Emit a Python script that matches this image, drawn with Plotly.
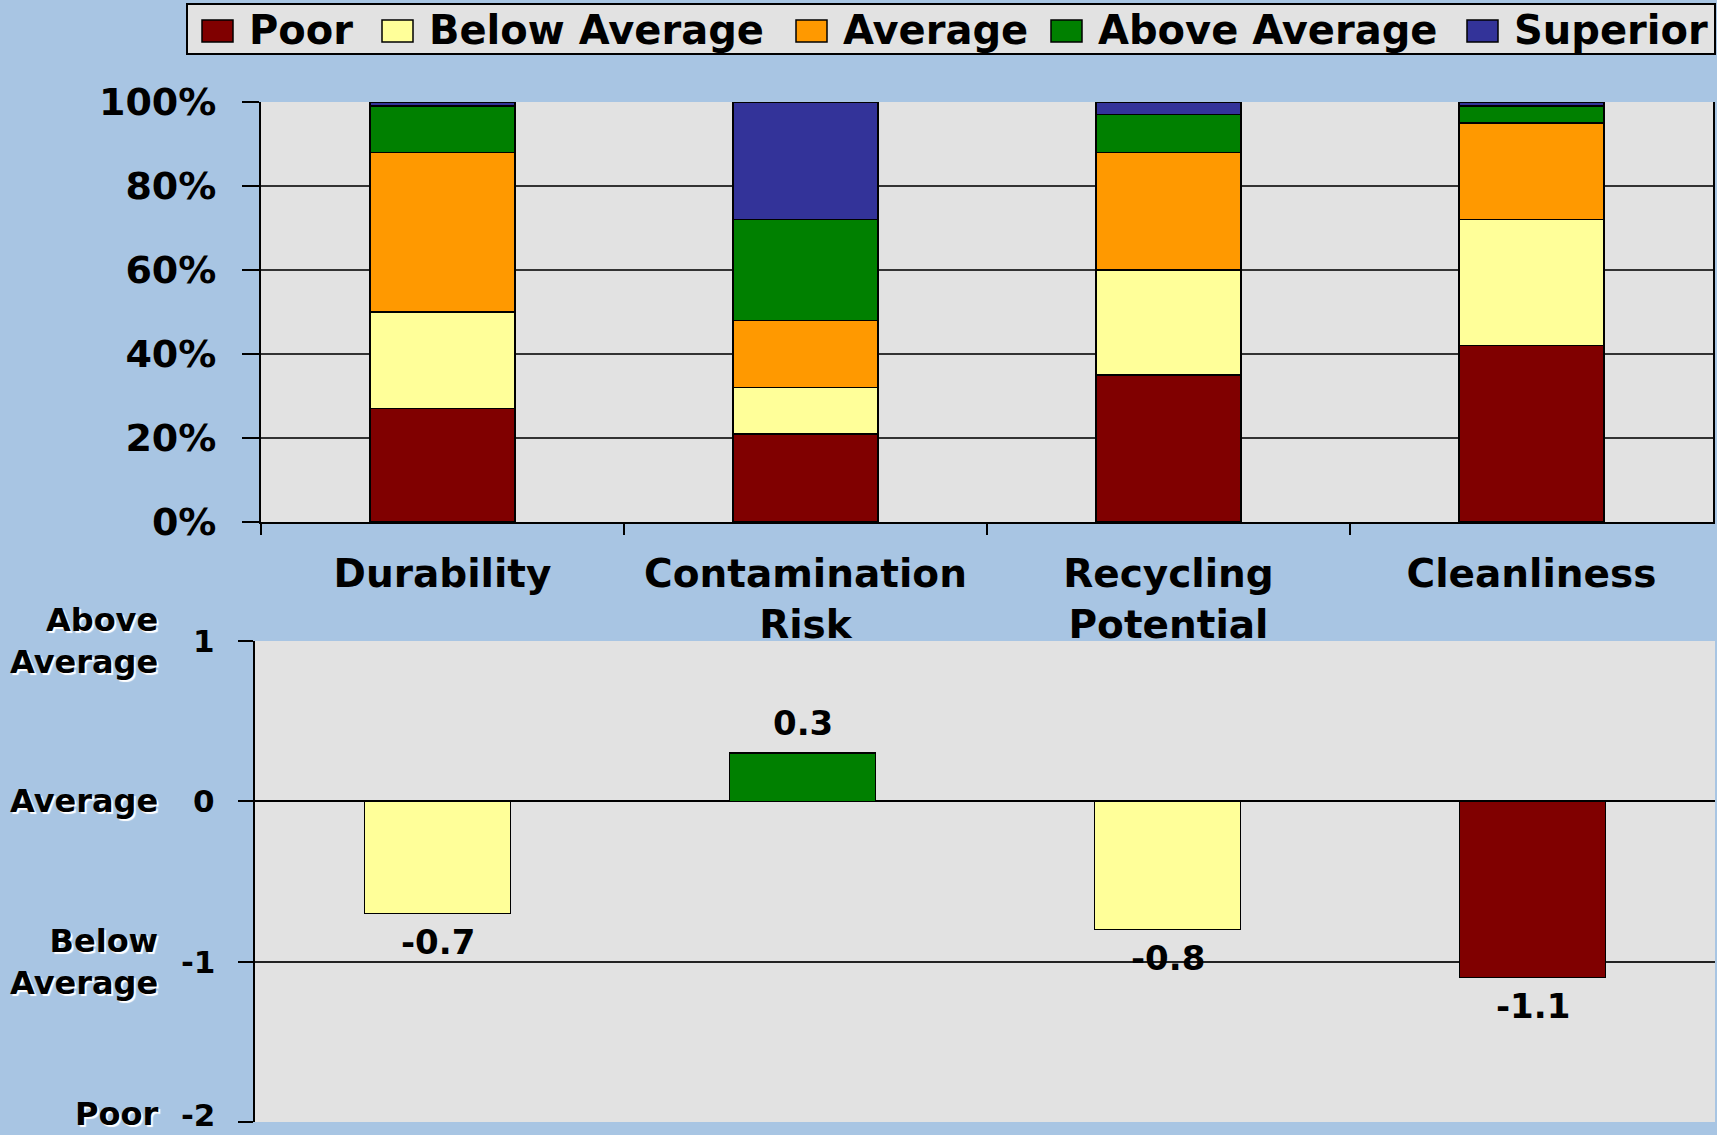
import plotly.graph_objects as go

categories = ["Durability", "Contamination<br>Risk", "Recycling<br>Potential", "Cleanliness"]
rating_levels = ["Poor", "Below Average", "Average", "Above Average", "Superior"]
poor = [27, 21, 35, 42]
below_average = [23, 11, 25, 30]
average = [38, 16, 28, 23]
above_average = [11, 24, 9, 4]
superior = [1, 28, 3, 1]
scores = [-0.7, 0.3, -0.8, -1.1]
score_tick_vals = [1, 0, -1, -2]
score_tick_text = ["1", "0", "-1", "-2"]
score_names = ["Above<br>Average", "Average", "Below<br>Average", "Poor"]

colors = {"Poor": "#800000", "Below Average": "#FFFF99", "Average": "#FF9900",
          "Above Average": "#008000", "Superior": "#333399"}
series = [poor, below_average, average, above_average, superior]

BG = "#A8C5E3"
PLOT_BG = "#E2E2E2"
FONT = "DejaVu Sans"
W, H = 1717, 1135

fig = go.Figure()
for name, vals in zip(rating_levels, series):
    fig.add_trace(go.Bar(x=categories, y=vals, name=name, xaxis="x", yaxis="y", showlegend=False,
                         marker=dict(color=colors[name], line=dict(color="black", width=1.5))))

def score_color(v):
    if v >= 0.0:
        return colors["Above Average"]
    if v > -1.0:
        return colors["Below Average"]
    return colors["Poor"]

fig.add_trace(go.Bar(x=categories, y=scores, xaxis="x2", yaxis="y2", showlegend=False,
                     marker=dict(color=[score_color(v) for v in scores], line=dict(color="black", width=1.5))))

annotations = []
shapes = []

# value labels for the score bars
for cat, v in zip(categories, scores):
    annotations.append(dict(x=cat, xref="x2", y=v, yref="y2", text=f"{v:.1f}", showarrow=False,
                            yanchor="middle", yshift=(30 if v >= 0 else -28),
                            font=dict(size=34, family=FONT, weight="bold", color="black")))

# score axis tick labels and rating names next to the score axis
last = score_tick_vals[-1]
for val, tick, lab in zip(score_tick_vals, score_tick_text, score_names):
    name_ann = dict(x=160 / W, xref="paper", xanchor="right", y=val, yref="y2",
                    yanchor="middle", text=lab, showarrow=False, align="right",
                    font=dict(size=32, family=FONT, weight="bold", color="black",
                              shadow="2px 2px 1px white"))
    tick_ann = dict(x=217 / W, xref="paper", xanchor="right", y=val, yref="y2",
                    yanchor="middle", text=tick, showarrow=False, align="right",
                    font=dict(size=31, family=FONT, weight="bold", color="black"))
    if val == last:
        name_ann.update(yanchor="bottom", yshift=-13)
        tick_ann.update(yanchor="bottom", yshift=-13)
    annotations.extend([name_ann, tick_ann])

# custom legend box (layout positions in pixels)
legend_box = (187, 4, 1715, 54)
legend_swatch_left = [202, 382, 796, 1051, 1467]
sw_w, sw_top, sw_bot = 31, 20, 42
shapes.append(dict(type="rect", xref="paper", yref="paper", layer="above",
                   x0=legend_box[0] / W, x1=legend_box[2] / W,
                   y0=1 - legend_box[3] / H, y1=1 - legend_box[1] / H,
                   fillcolor="#E2E2E2", line=dict(color="black", width=2)))
for name, lx in zip(rating_levels, legend_swatch_left):
    shapes.append(dict(type="rect", xref="paper", yref="paper", layer="above",
                       x0=lx / W, x1=(lx + sw_w) / W, y0=1 - sw_bot / H, y1=1 - sw_top / H,
                       fillcolor=colors[name], line=dict(color="black", width=1.5)))
    annotations.append(dict(x=(lx + 45) / W, xref="paper", xanchor="left",
                            y=1 - 30 / H, yref="paper", yanchor="middle", text=name,
                            showarrow=False,
                            font=dict(size=40, family=FONT, weight="bold", color="black")))

fig.update_layout(
    width=W, height=H,
    margin=dict(l=0, r=0, t=0, b=0, autoexpand=False),
    paper_bgcolor=BG, plot_bgcolor=PLOT_BG,
    barmode="stack", bargap=0.6, showlegend=False,
    font=dict(family=FONT, weight="bold", color="black", size=34),
    xaxis=dict(domain=[261 / W, 1713 / W], anchor="y", showline=True, linecolor="black", linewidth=2,
               ticks="outside", tickson="boundaries", ticklen=11, tickwidth=2, tickcolor="black",
               showgrid=False, tickfont=dict(size=39), ticklabelstandoff=16),
    yaxis=dict(domain=[1 - 522 / H, 1 - 102 / H], anchor="x", range=[0, 100], dtick=20,
               ticksuffix="%", showline=True, linecolor="black", linewidth=2, mirror=True,
               ticks="outside", ticklen=17, tickwidth=2, tickcolor="black",
               showgrid=True, gridcolor="#333333", gridwidth=2, zeroline=False,
               tickfont=dict(size=38), ticklabelstandoff=18),
    xaxis2=dict(domain=[255 / W, 1715 / W], anchor="y2", showticklabels=False, ticks="",
                showline=False, showgrid=False),
    yaxis2=dict(domain=[1 - 1122 / H, 1 - 641 / H], anchor="x2", range=[-2, 1],
                tickvals=score_tick_vals, showticklabels=False,
                showline=True, linecolor="black", linewidth=2,
                ticks="outside", ticklen=15, tickwidth=2, tickcolor="black",
                showgrid=True, gridcolor="#222222", gridwidth=2,
                zeroline=True, zerolinecolor="black", zerolinewidth=2),
    annotations=annotations,
    shapes=shapes,
)

fig.write_html("out.html", config={"displayModeBar": False},
               post_script="document.body.style.margin='0';document.body.style.overflow='hidden';")
